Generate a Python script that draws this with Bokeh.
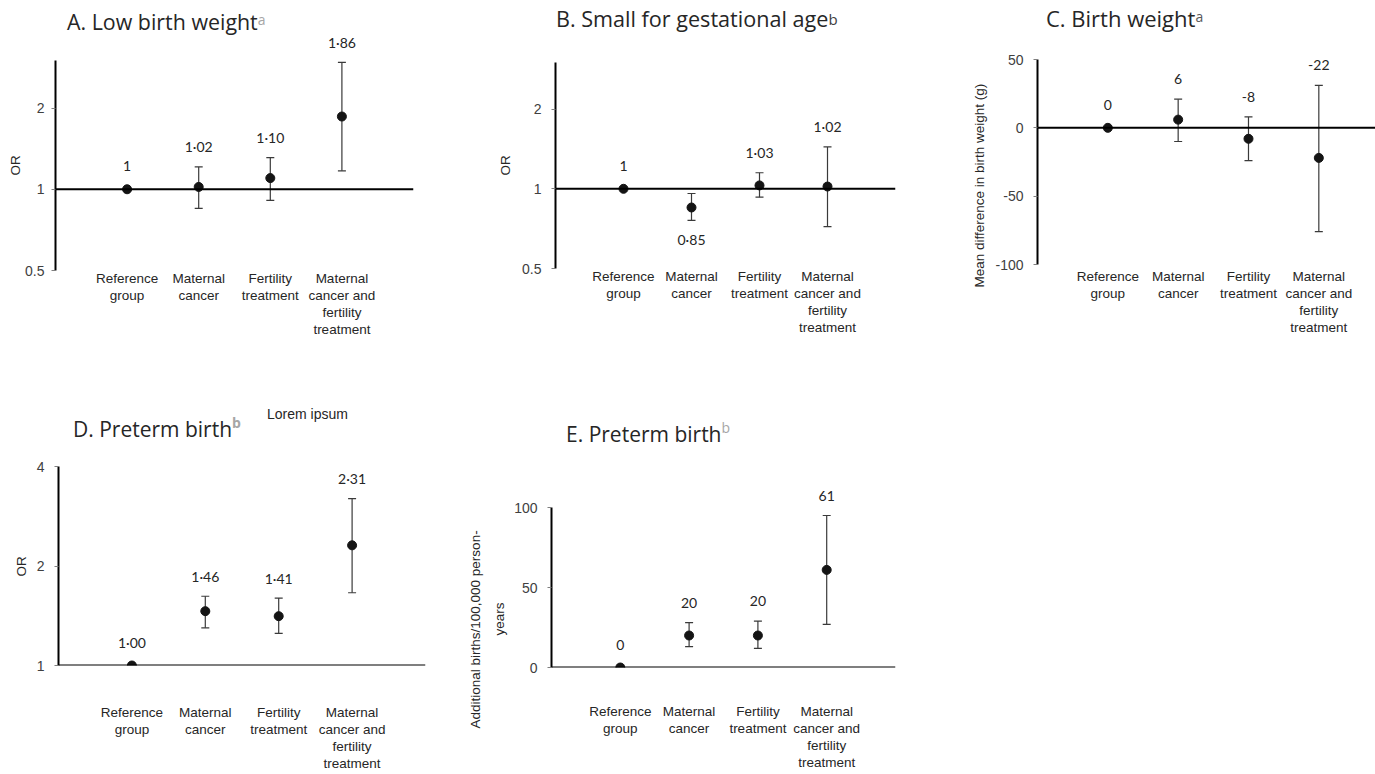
import math
from bokeh.plotting import figure
from bokeh.models import (Range1d, FixedTicker, Span, Whisker, TeeHead, ColumnDataSource,
                          NumeralTickFormatter, Div, Title)
from bokeh.layouts import row, column
from bokeh.embed import file_html
from bokeh.resources import INLINE
from bokeh.core.properties import value

# ---------------- data ----------------
categories = ["Reference\ngroup", "Maternal\ncancer", "Fertility\ntreatment",
              "Maternal\ncancer and\nfertility\ntreatment"]
cat_pos = [1, 2, 3, 4]

a_est = [1.0, 1.02, 1.10, 1.86]
a_lower = [None, 0.85, 0.91, 1.17]
a_upper = [None, 1.21, 1.31, 2.95]
a_labels = ["1", "1·02", "1·10", "1·86"]
a_sides = ["above", "above", "above", "above"]

b_est = [1.0, 0.85, 1.03, 1.02]
b_lower = [None, 0.76, 0.93, 0.72]
b_upper = [None, 0.96, 1.15, 1.44]
b_labels = ["1", "0·85", "1·03", "1·02"]
b_sides = ["above", "below", "above", "above"]

c_est = [0, 6, -8, -22]
c_lower = [None, -10, -24, -76]
c_upper = [None, 21, 8, 31]
c_labels = ["0", "6", "-8", "-22"]
c_sides = ["above", "above", "above", "above"]

d_est = [1.00, 1.46, 1.41, 2.31]
d_lower = [None, 1.30, 1.25, 1.66]
d_upper = [None, 1.62, 1.60, 3.20]
d_labels = ["1·00", "1·46", "1·41", "2·31"]
d_sides = ["above", "above", "above", "above"]

e_est = [0, 20, 20, 61]
e_lower = [None, 13, 12, 27]
e_upper = [None, 28, 29, 95]
e_labels = ["0", "20", "20", "61"]
e_sides = ["above", "above", "above", "above"]

a_ticks = [0.5, 1, 2]
b_ticks = [0.5, 1, 2]
c_ticks = [-100, -50, 0, 50]
d_ticks = [1, 2, 4]
e_ticks = [0, 50, 100]

TXT = "#262626"
TICK_TXT = "#404040"


def extended_top(lo, hi, ytype, axis_top_px, bottom_px, ext_top_px):
    """Range end that puts the frame top at ext_top_px while hi stays at axis_top_px."""
    if ext_top_px >= axis_top_px:
        return hi
    if ytype == "log":
        ppu = (bottom_px - axis_top_px) / math.log(hi / lo)
        return hi * math.exp((axis_top_px - ext_top_px) / ppu)
    ppu = (bottom_px - axis_top_px) / (hi - lo)
    return hi + (axis_top_px - ext_top_px) / ppu


def make_panel(est, lower, upper, labels, sides, cfg):
    fx, w, row_end = cfg["x"], cfg["w"], cfg["row_end"]
    fl, axis_top, fr, fb = cfg["frame"]
    ext = cfg["ext_top"]
    lo, hi = cfg["yr"]
    top_val = extended_top(lo, hi, cfg["ytype"], axis_top, fb, ext)
    p = figure(width=w, height=row_end - ext,
               x_range=Range1d(*cfg["xr"]), y_range=Range1d(lo, top_val),
               y_axis_type=cfg["ytype"], output_backend="svg", toolbar_location=None,
               min_border_left=fl - fx, min_border_right=fx + w - fr,
               min_border_top=0, min_border_bottom=row_end - fb)
    p.outline_line_color = None
    p.grid.visible = False
    p.background_fill_color = None
    p.border_fill_color = None

    ya = p.yaxis[0]
    ya.bounds = (lo, hi)
    ya.ticker = FixedTicker(ticks=cfg["yticks"])
    ya.formatter = NumeralTickFormatter(format="0.[0]")
    ya.axis_line_color = "black"
    ya.axis_line_width = 2
    ya.major_tick_line_color = "#7f7f7f"
    ya.major_tick_out = 4
    ya.major_tick_in = 0
    ya.minor_tick_line_color = None
    ya.major_label_text_font = "Liberation Sans"
    ya.major_label_text_font_size = "14px"
    ya.major_label_text_color = TICK_TXT
    ya.major_label_standoff = cfg["tick_standoff"]

    # y-axis caption(s): side titles, placed along the axis like the reference
    for text, bottom_y, standoff in cfg["ylabels"]:
        p.add_layout(Title(text=text, align="left", offset=fb - bottom_y, standoff=standoff,
                           text_font="Liberation Sans", text_font_size="13.5px",
                           text_font_style="normal", text_color=TXT), "left")

    xa = p.xaxis[0]
    xa.ticker = FixedTicker(ticks=cat_pos)
    xa.major_label_overrides = {k: v for k, v in zip(cat_pos, categories)}
    xa.axis_line_color = None
    xa.major_tick_line_color = None
    xa.minor_tick_line_color = None
    xa.major_tick_out = 0
    xa.major_tick_in = 0
    xa.major_label_text_font = "Liberation Sans"
    xa.major_label_text_font_size = "13.5px"
    xa.major_label_text_color = TXT
    xa.major_label_text_line_height = 1.14
    xa.major_label_standoff = cfg["cat_standoff"]

    p.add_layout(Span(location=cfg["ref"], dimension="width", line_color="black", line_width=2))

    wx = [x for x, l in zip(cat_pos, lower) if l is not None]
    wl = [l for l in lower if l is not None]
    wu = [u for u in upper if u is not None]
    wsrc = ColumnDataSource(dict(x=wx, lower=wl, upper=wu))
    p.add_layout(Whisker(source=wsrc, base="x", lower="lower", upper="upper", dimension="height",
                         line_color="#3a3a3a", line_width=1.2,
                         upper_head=TeeHead(size=8, line_color="#3a3a3a", line_width=1.2),
                         lower_head=TeeHead(size=8, line_color="#3a3a3a", line_width=1.2)))

    p.scatter(x=cat_pos, y=est, size=9, color="#141414")

    ly, loff = [], []
    for e, l, u, s in zip(est, lower, upper, sides):
        if s == "below":
            ly.append(l)
            loff.append(19)
        elif u is None:
            ly.append(e)
            loff.append(-23)
        else:
            ly.append(u)
            loff.append(-20)
    lsrc = ColumnDataSource(dict(x=cat_pos, y=ly, text=labels, off=loff))
    p.text(x="x", y="y", text="text", y_offset="off", source=lsrc,
           text_align="center", text_baseline="middle",
           text_font=value("Lato"), text_font_size="14px", text_color=TXT)
    return p


def title_div(w, h, left, baseline, title, size, sup, sup_color, sup_size, sup_raise,
              sup_weight="normal", extra=None):
    # baseline offset inside a 24px line box for Open Sans (ascent 1.069, descent 0.293)
    top = round(baseline - (12 + 0.388 * size))
    html = (
        f'<div style="position:relative;width:{w}px;height:{h}px;overflow:visible;">'
        f'<span style="position:absolute;left:{left}px;top:{top}px;white-space:nowrap;'
        f'font-family:\'Open Sans\';font-weight:400;font-size:{size}px;line-height:24px;'
        f'color:{TXT};">{title}'
        f'<span style="font-size:{sup_size};position:relative;top:-{sup_raise}px;line-height:0;'
        f'color:{sup_color};font-weight:{sup_weight};">{sup}</span></span>'
    )
    if extra is not None:
        ex, ey, et = extra
        html += (f'<span style="position:absolute;left:{ex}px;top:{ey}px;white-space:nowrap;'
                 f'font-family:\'Liberation Sans\';font-size:14px;line-height:17px;color:{TXT};">{et}</span>')
    html += '</div>'
    return Div(text=html, width=w, height=h, margin=0, styles={"overflow": "visible"})


ROW1 = 345
ROW2 = 774

cfg_a = dict(x=0, w=460, row_end=ROW1, frame=(55, 60, 413, 270), ext_top=34, xr=(0, 5),
             yr=(0.5, 3.0), ytype="log", yticks=a_ticks, tick_standoff=7, cat_standoff=0, ref=1,
             ylabels=[("OR", 175, 0)])
cfg_b = dict(x=460, w=460, row_end=ROW1, frame=(555, 62, 895, 268), ext_top=56, xr=(0, 5),
             yr=(0.5, 3.0), ytype="log", yticks=b_ticks, tick_standoff=10, cat_standoff=0, ref=1,
             ylabels=[("OR", 175, 14)])
cfg_c = dict(x=920, w=455, row_end=ROW1, frame=(1037, 59, 1375, 264), ext_top=50,
             xr=(0, (1375 - 1037) / 70.33), yr=(-100, 50), ytype="linear", yticks=c_ticks,
             tick_standoff=10, cat_standoff=4, ref=0,
             ylabels=[("Mean difference in birth weight (g)", 287, 12)])
cfg_d = dict(x=0, w=460, row_end=ROW2, frame=(58, 466, 425, 665), ext_top=455, xr=(0, 5),
             yr=(1, 4), ytype="log", yticks=d_ticks, tick_standoff=10, cat_standoff=39, ref=1,
             ylabels=[("OR", 576, 10)])
cfg_e = dict(x=460, w=460, row_end=ROW2, frame=(551, 507, 895, 667), ext_top=484, xr=(0, 5),
             yr=(0, 100), ytype="linear", yticks=e_ticks, tick_standoff=10, cat_standoff=36, ref=0,
             ylabels=[("years", 635, 10), ("Additional births/100,000 person-", 728, 4)])

pa = make_panel(a_est, a_lower, a_upper, a_labels, a_sides, cfg_a)
pb = make_panel(b_est, b_lower, b_upper, b_labels, b_sides, cfg_b)
pc = make_panel(c_est, c_lower, c_upper, c_labels, c_sides, cfg_c)
pd_ = make_panel(d_est, d_lower, d_upper, d_labels, d_sides, cfg_d)
pe = make_panel(e_est, e_lower, e_upper, e_labels, e_sides, cfg_e)

ta = title_div(460, cfg_a["ext_top"], 67, 30, "A. Low birth weight", 21.4, "a",
               "#a6a6a6", "14px", 5)
tb = title_div(460, cfg_b["ext_top"], 96, 27, "B. Small for gestational age", 21.6, "b",
               "#404040", "15px", 2)
tc = title_div(455, cfg_c["ext_top"], 126, 27, "C. Birth weight", 22, "a",
               "#595959", "14px", 5)
td = title_div(460, cfg_d["ext_top"] - ROW1, 73, 437 - ROW1, "D. Preterm birth", 21, "b",
               "#a6a6a6", "14px", 9, "bold", extra=(267, 419 - 13 - ROW1, "Lorem ipsum"))
te = title_div(460, cfg_e["ext_top"] - ROW1, 106, 442 - ROW1, "E. Preterm birth", 21, "b",
               "#a6a6a6", "14px", 9)

layout = column(
    row(column(ta, pa), column(tb, pb), column(tc, pc)),
    row(column(td, pd_), column(te, pe)),
)
open("out.html", "w").write(file_html(layout, INLINE))
